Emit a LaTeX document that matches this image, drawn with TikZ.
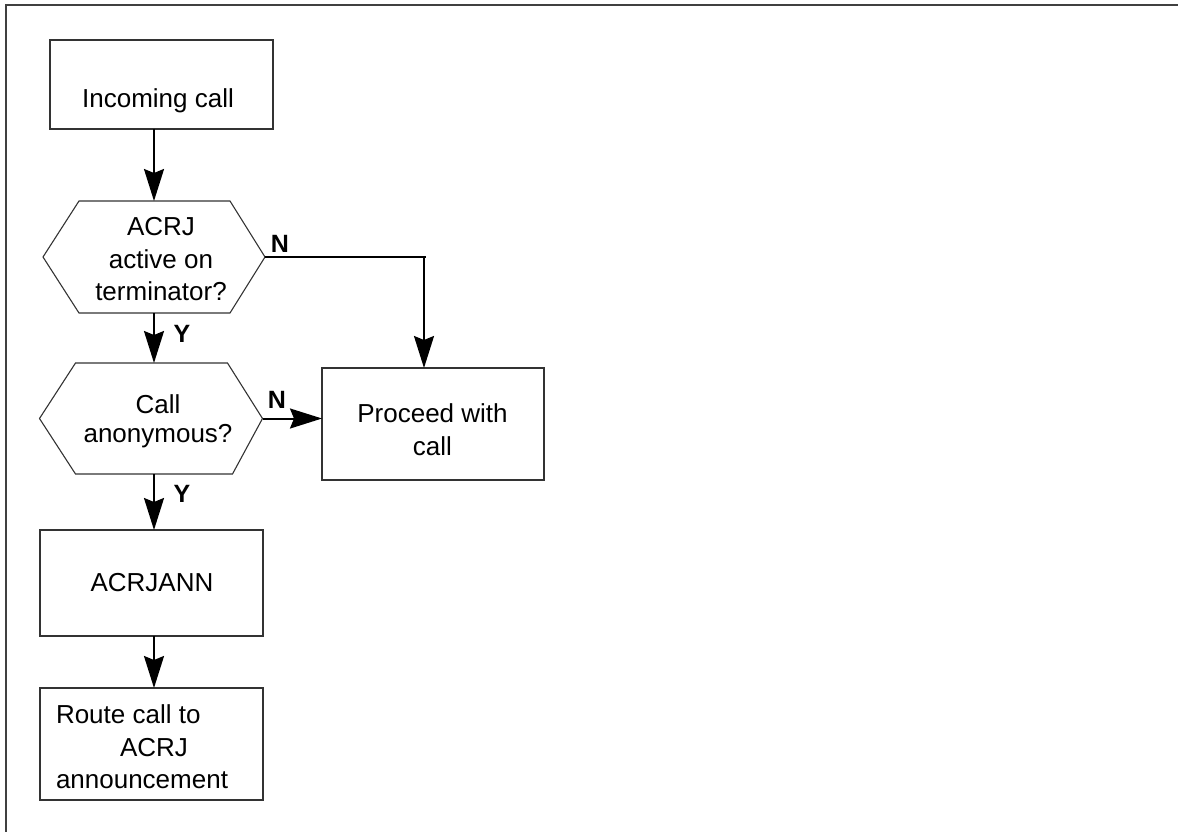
\documentclass[tikz,border=0pt]{standalone}
\usepackage{fontspec}
\setmainfont{Liberation Sans}
\usetikzlibrary{arrows.meta}
\begin{document}
\begin{tikzpicture}[x=1pt,y=-1pt,
  every node/.style={inner sep=0pt,outer sep=0pt},
  txt/.style={font=\fontsize{26}{33}\selectfont,anchor=base},
  lbl/.style={font=\fontsize{25}{30}\selectfont\bfseries,anchor=base},
  boxn/.style={draw=black!80,line width=1.1pt,rectangle},
  hexn/.style={rectangle},
  hexline/.style={draw=black!80,line width=1.1pt},
  conn/.style={draw=black,line width=2pt},
  arr/.style={conn,-{Stealth[length=32pt,width=20pt,inset=4pt]}},
  frame/.style={draw=black!75,line width=1.6pt}]
\useasboundingbox (0,0) rectangle (1178,832);
% partial frame
\coordinate (f0) at (6,5);
\coordinate (f1) at (1178,5);
\coordinate (f2) at (6,832);
\draw[frame] (f1) -- (f0) -- (f2);

% boxes
\node[boxn,minimum width=223pt,minimum height=89pt] (incoming) at (161.5,84.5) {};
\node[hexn,minimum width=222pt,minimum height=112pt] (h1) at (154,257) {};
\node[hexn,minimum width=223pt,minimum height=111pt] (h2) at (151,418.5) {};
\node[boxn,minimum width=222pt,minimum height=112pt] (proceed) at (433,424) {};
\node[boxn,minimum width=223pt,minimum height=106pt] (acrjann) at (151.5,583) {};
\node[boxn,minimum width=223pt,minimum height=112pt] (route) at (151.5,744) {};

% hexagons
\draw[hexline] (h1.west) -- ([xshift=36pt]h1.north west) -- ([xshift=-35pt]h1.north east) -- (h1.east) -- ([xshift=-35pt]h1.south east) -- ([xshift=36pt]h1.south west) -- cycle;
\draw[hexline] (h2.west) -- ([xshift=36pt]h2.north west) -- ([xshift=-35pt]h2.north east) -- (h2.east) -- ([xshift=-30pt]h2.south east) -- ([xshift=36pt]h2.south west) -- cycle;

% texts
\node[txt] (t0) at (158,108) {Incoming call};
\node[txt] (t1a) at (161,235) {ACRJ};
\node[txt] (t1b) at (161,268) {active on};
\node[txt] (t1c) at (161,300) {terminator?};
\node[txt] (t2a) at (158,413) {Call};
\node[txt] (t2b) at (158,442) {anonymous?};
\node[txt] (t3a) at (432.5,422) {Proceed with};
\node[txt] (t3b) at (432.5,455) {call};
\node[txt] (t4) at (152,591) {ACRJANN};
\node[txt,anchor=base west] (t5a) at (56,723) {Route call to};
\node[txt,anchor=base west] (t5b) at (120,756) {ACRJ};
\node[txt,anchor=base west] (t5c) at (56,788) {announcement};

% connectors
\draw[arr] (h1.north |- incoming.south) -- (h1.north);
\draw[arr] (h1.south) -- (h1.south |- h2.north);
\coordinate (c1) at (424,257);
\draw[conn] (h1.east) -- ([xshift=2pt]c1);
\draw[arr] (c1) -- (c1 |- proceed.north);
\draw[arr] (h2.east) -- (h2.east -| proceed.west);
\draw[arr] (h1.south |- h2.south) -- (h1.south |- acrjann.north);
\draw[arr] (h1.south |- acrjann.south) -- (h1.south |- route.north);

% branch labels
\node[lbl] (n1) at (280,252) {N};
\node[lbl] (n2) at (277,408) {N};
\node[lbl] (y1) at (182,342) {Y};
\node[lbl] (y2) at (182,502) {Y};
\end{tikzpicture}
\end{document}
